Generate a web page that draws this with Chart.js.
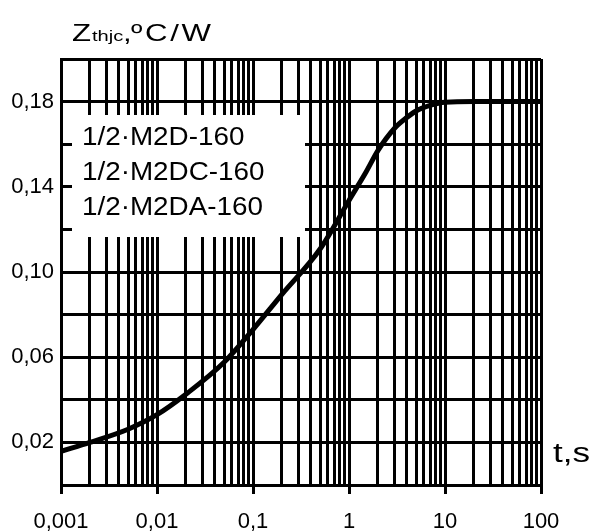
<!DOCTYPE html>
<html>
<head>
<meta charset="utf-8">
<script src="https://cdn.jsdelivr.net/npm/chart.js@4"></script>
<style>
  html, body { margin: 0; padding: 0; background: #fff; }
  canvas { display: block; }
</style>
</head>
<body>
<canvas id="chart" width="592" height="532"></canvas>
<script>
// transient thermal impedance
const timeS = [0.001, 0.002, 0.005, 0.01, 0.02, 0.05, 0.1, 0.2, 0.5, 1, 1.5, 2, 3, 4, 5, 7, 10, 20, 50, 100];
const zthjc = [0.0158, 0.0200, 0.0262, 0.0330, 0.0426, 0.0576, 0.0730, 0.0895, 0.1108, 0.1336, 0.1468, 0.1570, 0.1676, 0.1725, 0.1756, 0.1782, 0.1797, 0.1800, 0.1800, 0.1800];

const xDecades = [0.001, 0.01, 0.1, 1, 10, 100];
const xTickLabels = ['0,001', '0,01', '0,1', '1', '10', '100'];
const yLabelValues = [0.02, 0.06, 0.10, 0.14, 0.18];
const yTickLabels = ['0,02', '0,06', '0,10', '0,14', '0,18'];
const legendLines = ['1/2\u00b7M2D-160', '1/2\u00b7M2DC-160', '1/2\u00b7M2DA-160'];

const FONT = "'Liberation Sans', Arial, sans-serif";
const GRID_W = 3;

// log paper: a line at 1..9 x 10^n
const xGrid = [];
xDecades.forEach((d, i) => {
  if (i === xDecades.length - 1) { xGrid.push(d); return; }
  for (let m = 1; m < 10; m++) xGrid.push(+(d * m).toPrecision(3));
});

const decadeIndex = (v) => xDecades.findIndex((d) => Math.abs(v / d - 1) < 1e-6);

const overlay = {
  id: 'overlay',
  beforeDraw(chart) {
    const { ctx } = chart;
    ctx.save();
    ctx.fillStyle = '#fff';
    ctx.fillRect(0, 0, chart.width, chart.height);
    ctx.restore();
  },
  beforeDatasetsDraw(chart) {
    const { ctx, chartArea: a } = chart;
    ctx.save();
    ctx.fillStyle = '#fff';
    ctx.fillRect(a.left + 11, a.top + 56, 233, 122);
    ctx.fillStyle = '#000';
    ctx.font = `26px ${FONT}`;
    ctx.textBaseline = 'alphabetic';
    legendLines.forEach((s, i) => {
      ctx.save();
      ctx.translate(a.left + 21, a.top + 86 + i * 35);
      ctx.scale(1.07, 1);
      ctx.fillText(s, 0, 0);
      ctx.restore();
    });
    ctx.restore();
  },
  afterDraw(chart) {
    const { ctx } = chart;
    ctx.save();
    ctx.fillStyle = '#000';
    ctx.textBaseline = 'alphabetic';

    // axis title, drawn wide like the original
    ctx.save();
    ctx.translate(72, 41);
    ctx.scale(1.3, 1);
    ctx.font = `24px ${FONT}`;
    ctx.fillText('Z', 0, 0);
    ctx.font = `15.5px ${FONT}`;
    ctx.fillText('thjc', 15.4, 0);
    ctx.font = `24px ${FONT}`;
    ctx.fillText(',', 39.2, 0);
    ctx.letterSpacing = '2px';
    ctx.fillText('\u00baC/W', 45.4, 0);
    ctx.restore();

    ctx.save();
    ctx.translate(553, 462);
    ctx.scale(1.3, 1);
    ctx.font = `27px ${FONT}`;
    ctx.fillText('t,s', 0, 0);
    ctx.restore();

    ctx.restore();
  },
};

new Chart(document.getElementById('chart'), {
  type: 'line',
  data: {
    datasets: [{
      data: timeS.map((t, i) => ({ x: t, y: zthjc[i] })),
      borderColor: '#000',
      borderWidth: 5,
      pointRadius: 0,
      cubicInterpolationMode: 'monotone',
      fill: false,
    }],
  },
  options: {
    responsive: false,
    animation: false,
    events: [],
    layout: { padding: { top: 59, right: 51, left: 0, bottom: 0 } },
    plugins: { legend: { display: false }, tooltip: { enabled: false }, title: { display: false } },
    scales: {
      x: {
        type: 'logarithmic',
        min: 0.001,
        max: 100,
        afterBuildTicks: (scale) => { scale.ticks = xGrid.map((v) => ({ value: v })); },
        afterFit: (scale) => { scale.height = 47; },
        border: { color: '#000', width: GRID_W },
        grid: {
          color: '#000',
          lineWidth: GRID_W,
          tickLength: 9,
          tickColor: (c) => (c.tick && decadeIndex(c.tick.value) >= 0 ? '#000' : 'rgba(0,0,0,0)'),
        },
        ticks: {
          autoSkip: false,
          maxRotation: 0,
          padding: 15,
          color: '#000',
          font: { family: FONT, size: 22 },
          callback: (v) => { const i = decadeIndex(v); return i >= 0 ? xTickLabels[i] : ''; },
        },
      },
      y: {
        min: 0,
        max: 0.2,
        afterFit: (scale) => { scale.width = 61; },
        border: { color: '#000', width: GRID_W },
        grid: { color: '#000', lineWidth: GRID_W, drawTicks: false },
        ticks: {
          stepSize: 0.02,
          padding: 7,
          color: '#000',
          font: { family: FONT, size: 22 },
          callback: (v) => {
            const i = yLabelValues.findIndex((y) => Math.abs(y - v) < 1e-6);
            return i >= 0 ? yTickLabels[i] : '';
          },
        },
      },
    },
  },
  plugins: [overlay],
});
</script>
</body>
</html>
